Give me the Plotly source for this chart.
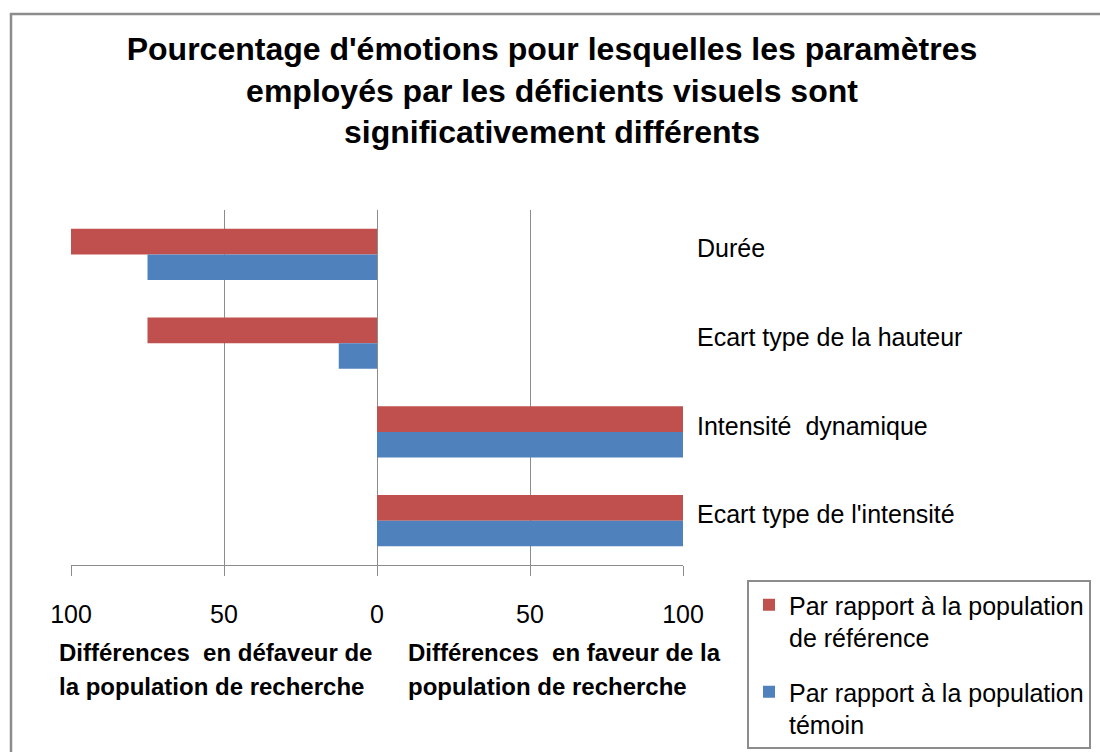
import plotly.graph_objects as go

categories = ["Durée", "Ecart type de la hauteur", "Intensité\u00a0 dynamique", "Ecart type de l'intensité"]
ref_values = [-100, -75, 100, 100]
temoin_values = [-75, -12.5, 100, 100]
series_names = ["Par rapport à la population<br>de référence", "Par rapport à la population<br>témoin"]
series_colors = ["#C0504D", "#4F81BD"]
tick_vals = [-100, -50, 0, 50, 100]
tick_text = ["100", "50", "0", "50", "100"]

FONT = "Liberation Sans, Arial, sans-serif"
GRID = "#8C8C8C"

fig = go.Figure()
for i, (name, vals, col) in enumerate(zip(series_names, [ref_values, temoin_values], series_colors)):
    fig.add_trace(go.Bar(
        y=categories, x=vals, name=name, orientation="h",
        legendgroup="g%d" % i,
        marker=dict(color=col, line=dict(width=0)),
    ))

W, H = 1100, 752
L, R, T, B = 71, 417, 210, 187
pw, ph = W - L - R, H - T - B

def px_x(x):
    return (x - L) / pw

def px_y(y):
    return (H - B - y) / ph

fig.update_layout(
    width=W, height=H,
    margin=dict(l=L, r=R, t=T, b=B, autoexpand=False),
    paper_bgcolor="white", plot_bgcolor="white",
    font=dict(family=FONT, color="black", size=25),
    barmode="group", bargap=0.425, bargroupgap=0,
    title=dict(
        text="<b>Pourcentage d'émotions pour lesquelles les paramètres<br>employés par les déficients visuels sont<br>significativement différents</b>",
        x=552 / W, xref="container", xanchor="center",
        y=1 - 60 / H, yref="container", yanchor="top",
        font=dict(family=FONT, size=32, color="black"),
    ),
    xaxis=dict(
        range=[-100, 100], tickvals=tick_vals, ticktext=tick_text,
        showgrid=True, gridcolor=GRID, gridwidth=1,
        zeroline=False, showline=True, linecolor=GRID, linewidth=1,
        ticks="outside", ticklen=10, tickcolor=GRID, tickwidth=1,
        ticklabelstandoff=17,
        tickfont=dict(family=FONT, size=25, color="black"),
        fixedrange=True,
    ),
    yaxis=dict(
        type="category", categoryorder="array", categoryarray=categories,
        autorange="reversed", side="right",
        showgrid=False, zeroline=False, showline=False, ticks="",
        ticklabelstandoff=13, ticklabelshift=6,
        tickfont=dict(family=FONT, size=25, color="black"),
        fixedrange=True,
    ),
    legend=dict(
        x=px_x(747), y=px_y(580), xanchor="left", yanchor="top",
        xref="paper", yref="paper",
        bordercolor=GRID, borderwidth=2, bgcolor="white",
        font=dict(family=FONT, size=25, color="black"),
        valign="top", traceorder="grouped", tracegroupgap=19,
    ),
    showlegend=True,
)

# outer chart frame (Excel chart area border)
fig.add_shape(type="rect", xref="paper", yref="paper",
              x0=px_x(11), x1=px_x(1120), y0=px_y(780), y1=px_y(14),
              line=dict(color="#8C8C8C", width=2.5), fillcolor="rgba(0,0,0,0)", layer="below")

notes = [
    ("Différences\u00a0 en défaveur de", 57, 652),
    ("la population de recherche", 57, 686),
    ("Différences\u00a0 en faveur de la", 406, 652),
    ("population de recherche", 406, 686),
]
for txt, xp, yp in notes:
    fig.add_annotation(text="<b>" + txt + "</b>", xref="paper", yref="paper",
                       x=px_x(xp), y=px_y(yp), xanchor="left", yanchor="middle",
                       showarrow=False, font=dict(family=FONT, size=24, color="black"))

fig.write_html("out.html", config={"displayModeBar": False},
               post_script="document.body.style.margin='0';")
